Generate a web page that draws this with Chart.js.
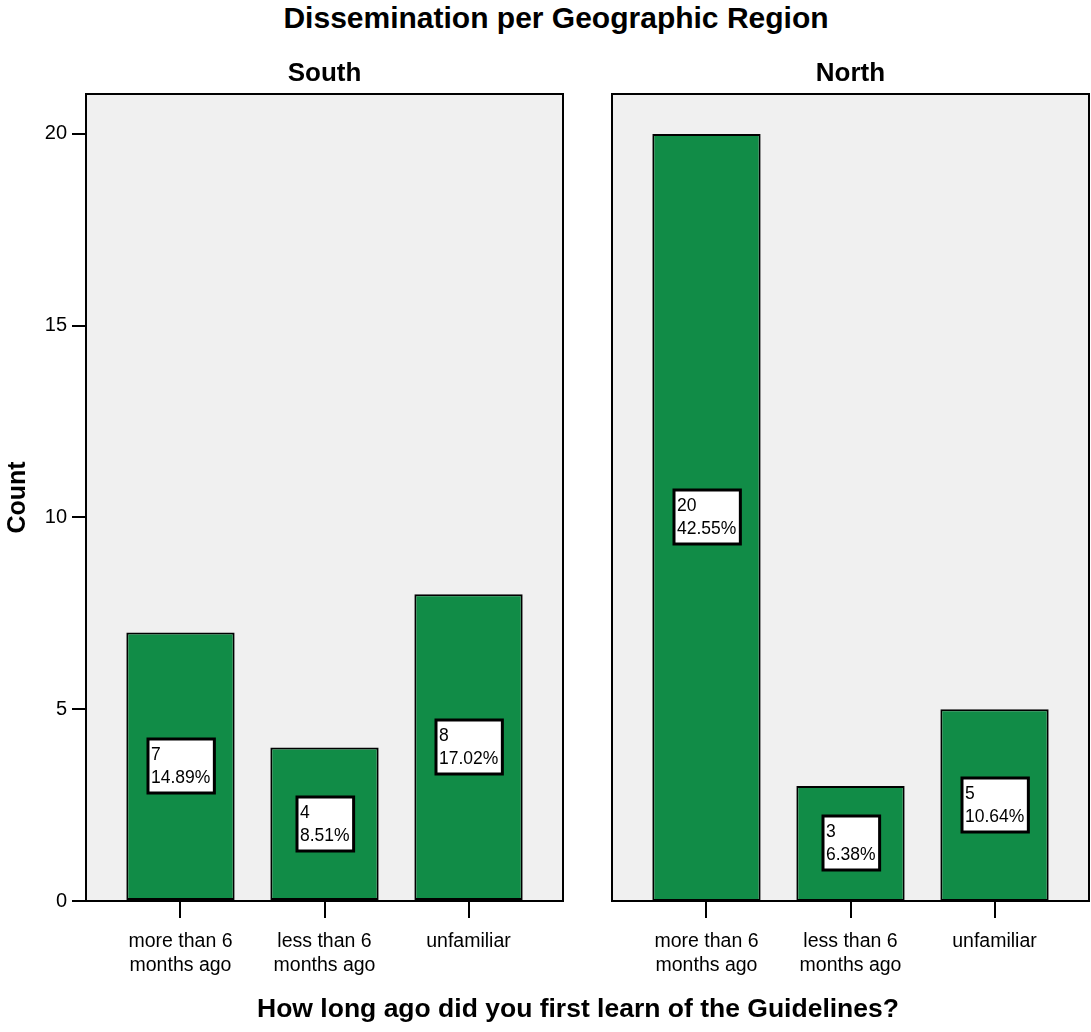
<!DOCTYPE html>
<html lang="en">
<head>
    <meta charset="UTF-8">
    <script src="https://cdn.jsdelivr.net/npm/chart.js@4/dist/chart.umd.min.js"></script>
    <title>Dissemination per Geographic Region</title>
    <style type="text/css">
        body { margin: 0; background: #fff; }
        #wrap { position: relative; width: 1091px; height: 1032px; overflow: hidden; }
        #wrap canvas { position: absolute; top: 0; }
        .title {
            position: absolute; white-space: nowrap; color: #000;
            font-family: "Liberation Sans", Arial, sans-serif; font-weight: bold;
            transform: translateX(-50%);
        }
    </style>
</head>
<body>
<div id="wrap">
    <div class="title" style="left:556px; top:1px; font-size:30px;">Dissemination per Geographic Region</div>
    <canvas id="southCanvas" width="590" height="1032" style="left:0px;"></canvas>
    <canvas id="northCanvas" width="501" height="1032" style="left:590px;"></canvas>
    <div class="title" style="left:578px; top:993px; font-size:26.5px;">How long ago did you first learn of the Guidelines?</div>
</div>
<script>
// values
var categories = [['more than 6', 'months ago'], ['less than 6', 'months ago'], ['unfamiliar']];
var southCounts = [7, 4, 8];
var southPercents = ['14.89%', '8.51%', '17.02%'];
var northCounts = [20, 3, 5];
var northPercents = ['42.55%', '6.38%', '10.64%'];
var yMax = 21.04;
var yStep = 5;

var sans = "'Liberation Sans', Arial, sans-serif";
var green = '#118C47';

var panelPlugin = {
    id: 'panel',
    beforeDraw: function(chart) {
        var a = chart.chartArea, ctx = chart.ctx;
        ctx.save();
        ctx.fillStyle = '#f0f0f0';
        ctx.fillRect(a.left, a.top, a.right - a.left, a.bottom - a.top);
        ctx.restore();
    },
    afterDatasetsDraw: function(chart, args, opts) {
        var a = chart.chartArea, ctx = chart.ctx;
        ctx.save();
        ctx.strokeStyle = '#000';
        ctx.lineWidth = 2;
        ctx.strokeRect(a.left, a.top, a.right - a.left, a.bottom - a.top);

        // panel name
        ctx.fillStyle = '#000';
        ctx.font = 'bold 26px ' + sans;
        ctx.textAlign = 'center';
        ctx.textBaseline = 'middle';
        ctx.fillText(opts.title, (a.left + a.right) / 2, 74);

        // count / percent boxes
        var meta = chart.getDatasetMeta(0);
        var counts = chart.data.datasets[0].data;
        ctx.font = '17.5px ' + sans;
        ctx.textAlign = 'left';
        meta.data.forEach(function(bar, i) {
            var lines = [String(counts[i].y), opts.percents[i]];
            var w = Math.max(ctx.measureText(lines[0]).width, ctx.measureText(lines[1]).width) + 7;
            var h = 54;
            var cx = bar.x + 1, cy = (bar.y + bar.base) / 2;
            var x0 = Math.round(cx - w / 2), y0 = Math.round(cy - h / 2);
            ctx.fillStyle = '#fff';
            ctx.fillRect(x0, y0, w, h);
            ctx.lineWidth = 3;
            ctx.strokeStyle = '#000';
            ctx.strokeRect(x0, y0, w, h);
            ctx.fillStyle = '#000';
            ctx.fillText(lines[0], x0 + 3, y0 + 16);
            ctx.fillText(lines[1], x0 + 3, y0 + 39);
        });
        ctx.restore();
    }
};

function makeChart(id, counts, percents, title, showY, padLeft, padRight) {
    var ctx = document.getElementById(id);
    return new Chart(ctx, {
        type: 'bar',
        data: {
            datasets: [{
                data: counts.map(function(v, i) { return {x: i, y: v}; }),
                backgroundColor: green,
                borderColor: '#000',
                borderWidth: 2,
                borderSkipped: false,
                categoryPercentage: 1,
                barPercentage: 0.752
            }]
        },
        options: {
            responsive: false,
            animation: false,
            layout: { padding: { top: 94, left: padLeft, right: padRight, bottom: 0 } },
            plugins: {
                legend: { display: false },
                tooltip: { enabled: false },
                panel: { title: title, percents: percents }
            },
            scales: {
                x: {
                    type: 'linear',
                    offset: false,
                    min: -0.656,
                    max: 2.656,
                    afterFit: function(scale) { scale.height = 131; },
                    border: { display: false },
                    grid: { offset: false, drawOnChartArea: false, drawTicks: true, tickLength: 17, color: '#000', lineWidth: 2 },
                    ticks: {
                        stepSize: 1,
                        includeBounds: false,
                        maxRotation: 0,
                        autoSkip: false,
                        padding: 12,
                        color: '#000',
                        font: { family: sans, size: 19.5, lineHeight: 1.23 },
                        callback: function(v) { return categories[v]; }
                    }
                },
                y: {
                    display: showY,
                    min: 0,
                    max: yMax,
                    afterFit: function(scale) { if (showY) scale.width = 86; },
                    border: { display: false },
                    grid: { drawOnChartArea: false, drawTicks: true, tickLength: 14, color: '#000', lineWidth: 2 },
                    ticks: {
                        stepSize: yStep,
                        includeBounds: false,
                        padding: 5,
                        color: '#000',
                        font: { family: sans, size: 20 }
                    },
                    title: {
                        display: true,
                        text: 'Count',
                        color: '#000',
                        padding: { top: 3, bottom: 0 },
                        font: { family: sans, size: 25, weight: 'bold' }
                    }
                }
            }
        },
        plugins: [panelPlugin]
    });
}

makeChart('southCanvas', southCounts, southPercents, 'South', true, 0, 27);
makeChart('northCanvas', northCounts, northPercents, 'North', false, 22, 2);
</script>
</body>
</html>
